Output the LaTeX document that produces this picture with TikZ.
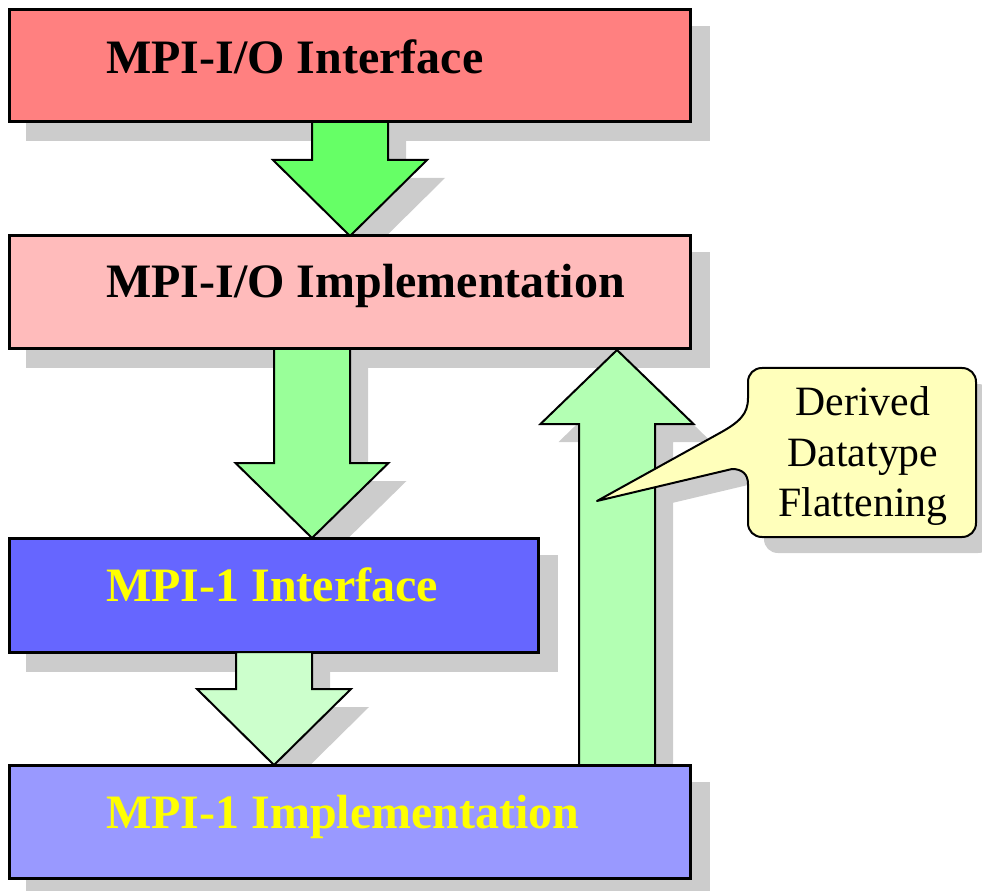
\documentclass[tikz,border=0pt]{standalone}
\usepackage{fontspec}
\setmainfont{Liberation Serif}
\definecolor{boxA}{HTML}{FF8080}
\definecolor{boxB}{HTML}{FFBBBB}
\definecolor{boxC}{HTML}{6666FF}
\definecolor{boxD}{HTML}{9999FF}
\definecolor{arrA}{HTML}{66FF66}
\definecolor{arrB}{HTML}{99FF99}
\definecolor{arrC}{HTML}{CCFFCC}
\definecolor{arrU}{HTML}{B3FFB3}
\definecolor{callc}{HTML}{FFFFBB}
\definecolor{shadc}{HTML}{CCCCCC}
\definecolor{ytext}{HTML}{FFFF00}
\newcommand{\myarrowpath}[6]{(#1-#5,#2) -- (#1+#5,#2) -- (#1+#5,#3) -- (#1+#6,#3) -- (#1,#4) -- (#1-#6,#3) -- (#1-#5,#3) -- cycle}
\newcommand{\mycalloutpath}{(762,368) -- (962,368) .. controls (970,368) and (976,374) .. (976,382) -- (976,523) .. controls (976,531) and (970,537) .. (962,537) -- (762,537) .. controls (754,537) and (748,531) .. (748,523) -- (748,484) .. controls (748,474) and (742,469) .. (732,469) -- (597,501) -- (718,434) .. controls (740,422) and (748,414) .. (748,398) -- (748,382) .. controls (748,374) and (754,368) .. (762,368) -- cycle}
\tikzset{
  blockbox/.style={draw=black, line width=2.25pt},
  blockarrow/.style={draw=black, line width=1.5pt, line join=miter},
  shadowfill/.style={fill=shadc},
  boxlabel/.style={anchor=base west, inner sep=0pt, font=\fontsize{36}{40}\selectfont\bfseries},
  calltext/.style={anchor=base, inner sep=0pt, font=\fontsize{31.3}{38}\selectfont}
}
\begin{document}
\begin{tikzpicture}[x=0.75pt,y=-0.75pt]
\useasboundingbox (0,0) rectangle (982,891);
% Box 1
\fill[shadowfill] (26,26) rectangle (710,141.5);
\draw[blockbox, fill=boxA] (9.5,9.5) rectangle (690.5,122);
\node[boxlabel] (t1) at (106,74) {MPI-I/O Interface};
% Arrow 1
\fill[shadowfill, shift={(18,18)}] \myarrowpath{350}{122}{160}{236}{38}{77};
\draw[blockarrow, fill=arrA] \myarrowpath{350}{122}{160}{236}{38}{77};
% Box 2
\fill[shadowfill] (26,252.5) rectangle (710,368.5);
\draw[blockbox, fill=boxB] (9.5,236) rectangle (690.5,349);
\node[boxlabel] (t2) at (106,298) {MPI-I/O Implementation};
% Arrow 2
\fill[shadowfill, shift={(18,18)}] \myarrowpath{312}{349}{463}{538}{38}{76.5};
\draw[blockarrow, fill=arrB] \myarrowpath{312}{349}{463}{538}{38}{76.5};
% callout shadow (behind up arrow)
\fill[shadowfill, shift={(16,16)}] \mycalloutpath;
% Up arrow
\fill[shadowfill, shift={(18,18)}] \myarrowpath{617}{765}{424}{350}{38}{76.5};
\draw[blockarrow, fill=arrU] \myarrowpath{617}{765}{424}{350}{38}{76.5};
% Box 3
\fill[shadowfill] (26,554.5) rectangle (557.5,671.5);
\draw[blockbox, fill=boxC] (9.5,538) rectangle (538.5,652);
\node[boxlabel, text=ytext] (t3) at (106,601) {MPI-1 Interface};
% Arrow 3
\fill[shadowfill, shift={(18,18)}] \myarrowpath{274}{652}{689}{765}{38}{77};
\draw[blockarrow, fill=arrC] \myarrowpath{274}{652}{689}{765}{38}{77};
% Box 4
\fill[shadowfill] (26,781.5) rectangle (710,897);
\draw[blockbox, fill=boxD] (9.5,765) rectangle (690.5,878);
\node[boxlabel, text=ytext] (t4) at (106,828) {MPI-1 Implementation};
% Callout
\draw[line width=1.5pt, fill=callc, line join=round] \mycalloutpath;
\node[calltext] (c1) at (863,415) {Derived};
\node[calltext] (c2) at (863,466) {Datatype};
\node[calltext] (c3) at (863,516) {Flattening};
\end{tikzpicture}
\end{document}
